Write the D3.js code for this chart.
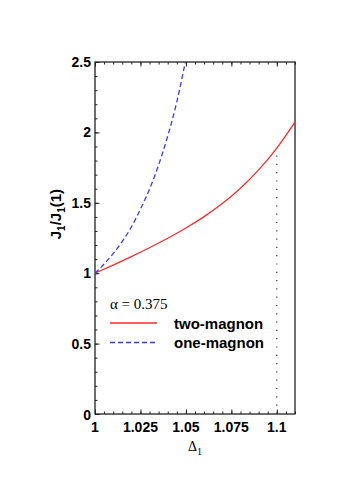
<!DOCTYPE html>
<html>
<head>
<meta charset="utf-8">
<script src="https://cdn.jsdelivr.net/npm/d3@7"></script>
<style>
  body { margin: 0; background: #fff; }
  svg { display: block; }
  .tick-label { font-family: "Liberation Sans", Arial, sans-serif; font-weight: bold; font-size: 14px; }
</style>
</head>
<body>
<svg id="chart" width="349" height="493"></svg>
<script>
// two-magnon curve (red, solid)
var twoMagnonX = [1.00, 1.01, 1.02, 1.03, 1.04, 1.05, 1.06, 1.07, 1.08, 1.09, 1.10, 1.11];
var twoMagnonY = [1.000, 1.058, 1.118, 1.181, 1.248, 1.321, 1.402, 1.495, 1.604, 1.734, 1.889, 2.074];
// one-magnon curve (blue, dashed)
var oneMagnonX = [1.000, 1.005, 1.010, 1.015, 1.020, 1.025, 1.030, 1.035, 1.040, 1.045, 1.050];
var oneMagnonY = [1.000, 1.065, 1.139, 1.226, 1.328, 1.455, 1.597, 1.769, 1.974, 2.217, 2.520];
var xTicks = [1, 1.025, 1.05, 1.075, 1.1];
var xTickLabels = ["1", "1.025", "1.05", "1.075", "1.1"];
var yTicks = [0, 0.5, 1, 1.5, 2, 2.5];
var yTickLabels = ["0", "0.5", "1", "1.5", "2", "2.5"];
var markerX = 1.1;      // dotted vertical line
var markerTop = 1.87;
var alphaText = "\u03B1 = 0.375";
var legendNames = ["two-magnon", "one-magnon"];

const margin = { top: 62, right: 54, bottom: 79, left: 95 },
    W = 349, H = 493;

const svg = d3.select("#chart");

const x = d3.scaleLinear().domain([1, 1.11]).range([margin.left, W - margin.right]);
const y = d3.scaleLinear().domain([0, 2.5]).range([H - margin.bottom, margin.top]);

svg.append("defs").append("clipPath").attr("id", "plot")
    .append("rect")
    .attr("x", x(1)).attr("y", y(2.5))
    .attr("width", x(1.11) - x(1)).attr("height", y(0) - y(2.5));

const minorX = d3.range(0, 23).map(i => 1 + i * 0.005);
const minorY = d3.range(0, 26).map(i => i * 0.1);

// bottom axis (ticks inward)
svg.append("g")
    .attr("transform", `translate(0,${y(0)})`)
    .call(d3.axisTop(x).tickValues(minorX).tickSize(2.5).tickFormat(""))
    .call(g => g.select(".domain").remove());
svg.append("g")
    .attr("transform", `translate(0,${y(0)})`)
    .call(d3.axisTop(x).tickValues(xTicks).tickSize(4.5).tickFormat(""))
    .call(g => g.select(".domain").remove());
// top axis (ticks inward)
svg.append("g")
    .attr("transform", `translate(0,${y(2.5)})`)
    .call(d3.axisBottom(x).tickValues(minorX).tickSize(2.5).tickFormat(""))
    .call(g => g.select(".domain").remove());
svg.append("g")
    .attr("transform", `translate(0,${y(2.5)})`)
    .call(d3.axisBottom(x).tickValues(xTicks).tickSize(4.5).tickFormat(""))
    .call(g => g.select(".domain").remove());
// left axis
svg.append("g")
    .attr("transform", `translate(${x(1)},0)`)
    .call(d3.axisRight(y).tickValues(minorY).tickSize(2.5).tickFormat(""))
    .call(g => g.select(".domain").remove());
svg.append("g")
    .attr("transform", `translate(${x(1)},0)`)
    .call(d3.axisRight(y).tickValues(yTicks).tickSize(4.5).tickFormat(""))
    .call(g => g.select(".domain").remove());

svg.selectAll(".tick line").attr("stroke", "#222").attr("stroke-width", 1);

// tick labels
svg.append("g").selectAll("text")
    .data(xTicks)
    .join("text")
    .attr("class", "tick-label")
    .attr("x", d => x(d))
    .attr("y", y(0) + 18)
    .attr("text-anchor", "middle")
    .text((d, i) => xTickLabels[i]);
svg.append("g").selectAll("text")
    .data(yTicks)
    .join("text")
    .attr("class", "tick-label")
    .attr("x", x(1) - 4)
    .attr("y", d => y(d))
    .attr("dy", d => d === 0 ? "0.45em" : "0.36em")
    .attr("text-anchor", "end")
    .text((d, i) => yTickLabels[i]);

// frame
svg.append("rect")
    .attr("x", x(1)).attr("y", y(2.5))
    .attr("width", x(1.11) - x(1)).attr("height", y(0) - y(2.5))
    .attr("fill", "none").attr("stroke", "#222").attr("stroke-width", 1.3);

// dotted marker
svg.append("line")
    .attr("x1", x(markerX)).attr("x2", x(markerX))
    .attr("y1", y(0)).attr("y2", y(markerTop))
    .attr("stroke", "#333").attr("stroke-width", 1.2)
    .attr("stroke-dasharray", "1.2,7.1");

const line = d3.line().curve(d3.curveNatural).x(d => x(d[0])).y(d => y(d[1]));

const plot = svg.append("g").attr("clip-path", "url(#plot)");
plot.append("path")
    .datum(twoMagnonX.map((v, i) => [v, twoMagnonY[i]]))
    .attr("fill", "none").attr("stroke", "#ff2a2a").attr("stroke-width", 1.3)
    .attr("d", line);
plot.append("path")
    .datum(oneMagnonX.map((v, i) => [v, oneMagnonY[i]]))
    .attr("fill", "none").attr("stroke", "#3838f5").attr("stroke-width", 1.3)
    .attr("stroke-dasharray", "5,3")
    .attr("d", line);

// legend
const lg = svg.append("g");
lg.append("text")
    .attr("x", 110).attr("y", 309)
    .attr("font-family", "Liberation Serif, Times New Roman, serif")
    .attr("font-size", 15)
    .text(alphaText);
const legendColors = ["#ff2a2a", "#3838f5"];
const legendDash = [null, "5,3"];
legendNames.forEach((name, i) => {
    const ly = 323 + i * 19.5;
    lg.append("line")
        .attr("x1", 110).attr("x2", 157)
        .attr("y1", ly).attr("y2", ly)
        .attr("stroke", legendColors[i]).attr("stroke-width", 1.3)
        .attr("stroke-dasharray", legendDash[i]);
    lg.append("text")
        .attr("x", 174).attr("y", ly + 5.5)
        .attr("font-family", "Liberation Sans, Arial, sans-serif")
        .attr("font-weight", "bold")
        .attr("font-size", 15)
        .text(name);
});

// axis titles
const xt = svg.append("text")
    .attr("x", 195).attr("y", 451)
    .attr("text-anchor", "middle")
    .attr("font-family", "Liberation Serif, Times New Roman, serif")
    .attr("font-size", 14);
xt.append("tspan").text("\u0394");
xt.append("tspan").attr("font-size", 10).attr("dy", 4).text("1");

const yt = svg.append("text")
    .attr("transform", `translate(61,${y(1.42)}) rotate(-90)`)
    .attr("text-anchor", "middle")
    .attr("font-family", "Liberation Sans, Arial, sans-serif")
    .attr("font-weight", "bold")
    .attr("font-size", 15);
yt.append("tspan").text("J");
yt.append("tspan").attr("font-size", 10).attr("dy", 4).text("1");
yt.append("tspan").attr("dy", -4).text("/J");
yt.append("tspan").attr("font-size", 10).attr("dy", 4).text("1");
yt.append("tspan").attr("dy", -4).text("(1)");
</script>
</body>
</html>
